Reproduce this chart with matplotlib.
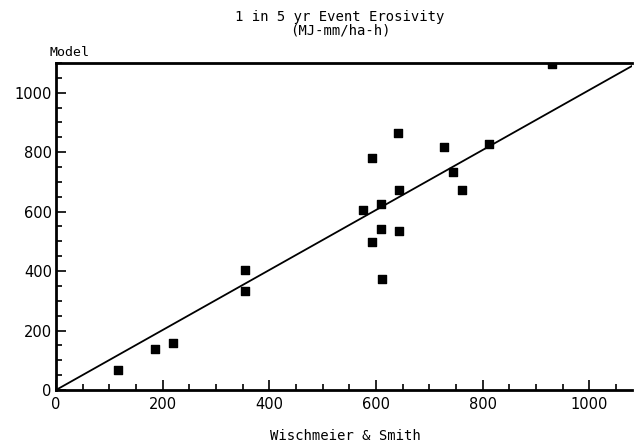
import numpy as np
import matplotlib
matplotlib.use('Agg')
import matplotlib.pyplot as plt
from matplotlib.ticker import MultipleLocator

# Values
ws = [117, 185, 219, 354, 354, 575, 592, 592, 610, 610, 611,
      642, 643, 643, 728, 744, 762, 812, 930]
model = [67, 137, 158, 405, 332, 606, 781, 498, 626, 540, 373,
         866, 672, 536, 816, 735, 673, 826, 1096]

# fitted line
line_x = [0, 1080]
line_y = [0, 1090]

fig = plt.figure(figsize=(6.34, 4.46), dpi=100)
ax = fig.add_axes([56 / 634, 1 - 390 / 446, 576 / 634, 327 / 446])

ax.plot(line_x, line_y, color='black', lw=1.3)
ax.scatter(ws, model, marker='s', s=40, color='black', zorder=3)

ax.set_xlim(0, 1080)
ax.set_ylim(0, 1100)
ax.xaxis.set_major_locator(MultipleLocator(200))
ax.xaxis.set_minor_locator(MultipleLocator(50))
ax.yaxis.set_major_locator(MultipleLocator(200))
ax.yaxis.set_minor_locator(MultipleLocator(50))
ax.tick_params(which='both', direction='in', width=1.2, labelsize=10.5)
ax.tick_params(which='major', length=7)
ax.tick_params(which='minor', length=4)
ax.tick_params(axis='x', pad=5)
ax.tick_params(axis='y', pad=3)

for s in ['left', 'bottom', 'top']:
    ax.spines[s].set_linewidth(2)
ax.spines['right'].set_visible(False)

mono = 'DejaVu Sans Mono'
fig.text(340 / 634, 1 - 17 / 446, '1 in 5 yr Event Erosivity', ha='center',
         va='center', fontsize=10, family=mono)
fig.text(340 / 634, 1 - 30 / 446, '(MJ-mm/ha-h)', ha='center',
         va='center', fontsize=10, family=mono)
fig.text(49 / 634, 1 - 52 / 446, 'Model', ha='left', va='center',
         fontsize=9.5, family=mono)
fig.text(345 / 634, 1 - 436 / 446, 'Wischmeier & Smith', ha='center',
         va='center', fontsize=10, family=mono)

plt.savefig('out.png', dpi=100)
